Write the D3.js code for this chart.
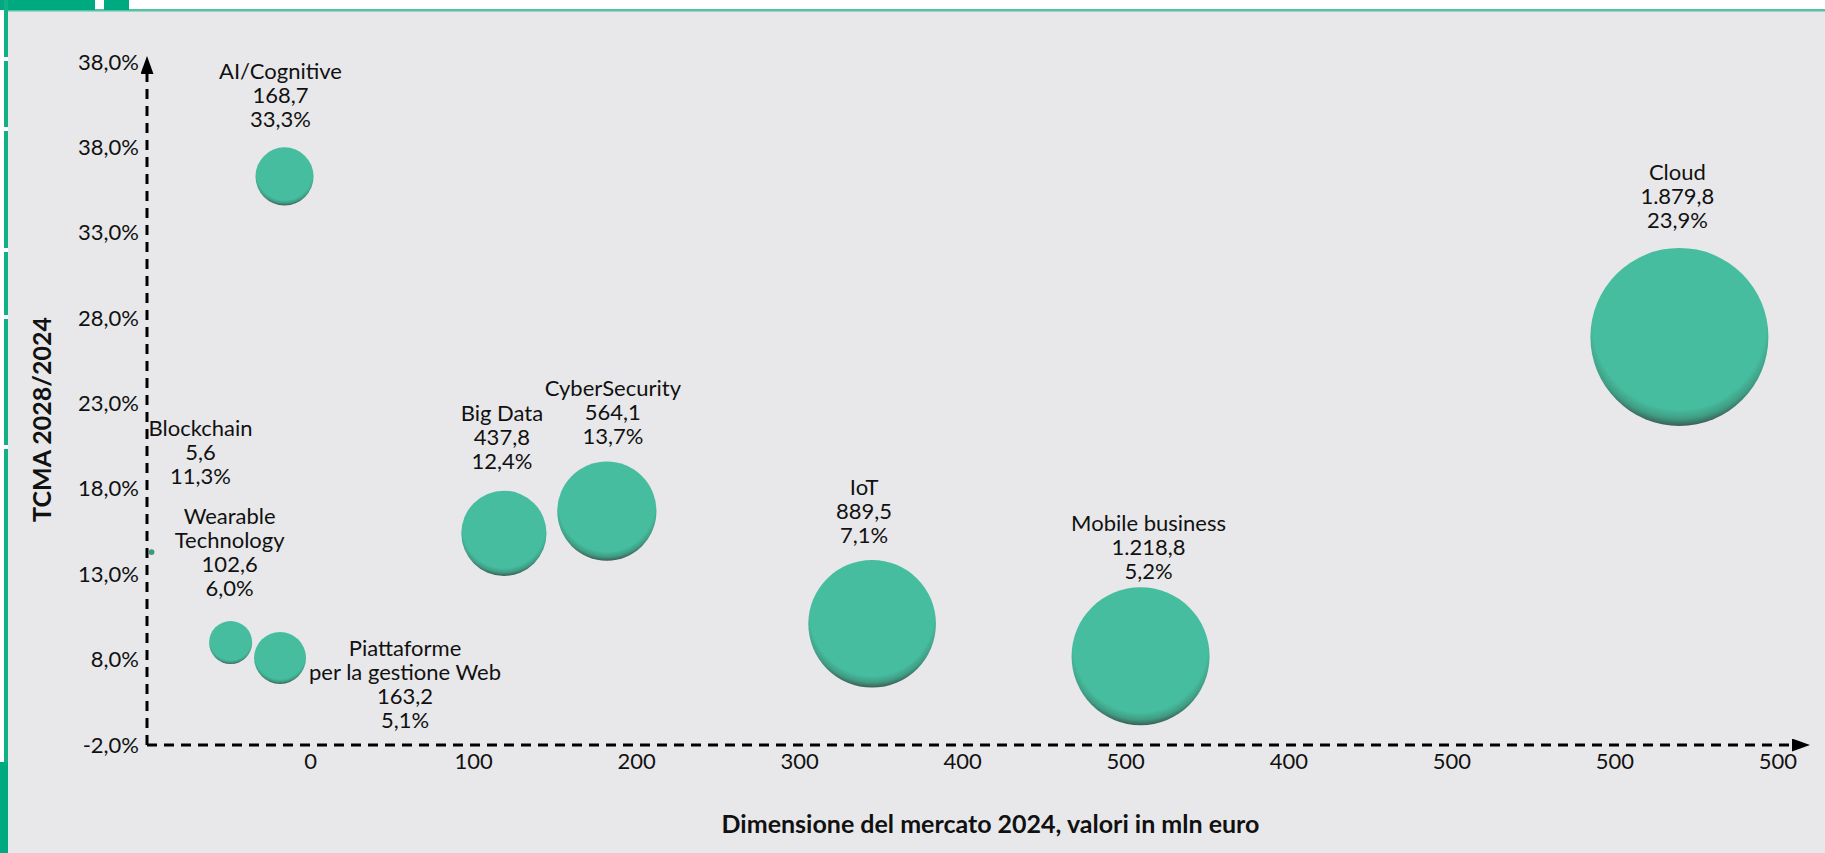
<!DOCTYPE html>
<html><head><meta charset="utf-8">
<script src="https://cdn.jsdelivr.net/npm/d3@7"></script>
<style>
html,body{margin:0;padding:0;background:#fff;}
svg{display:block;}
text{font-family:Lato,"Noto Sans",sans-serif;fill:#111;}
</style></head><body>
<svg id="chart" width="1825" height="853"></svg>
<script>
// ---------- DATA ----------
const categories = ["AI/Cognitive","Blockchain","Wearable Technology","Piattaforme per la gestione Web","Big Data","CyberSecurity","IoT","Mobile business","Cloud"];
const labelNames = [["AI/Cognitive"],["Blockchain"],["Wearable","Technology"],["Piattaforme","per la gestione Web"],["Big Data"],["CyberSecurity"],["IoT"],["Mobile business"],["Cloud"]];
const marketSize = [168.7, 5.6, 102.6, 163.2, 437.8, 564.1, 889.5, 1218.8, 1879.8];   // mln euro 2024
const cagr       = [33.3, 11.3, 6.0, 5.1, 12.4, 13.7, 7.1, 5.2, 23.9];                 // TCMA 2028/2024 %
const bubbleSize = [200, 2, 110, 160, 431, 584, 966, 1130, 1879.8];                     // bubble areas as drawn
const yTickValues = [0, 5, 10, 15, 20, 25, 30, 35, 40];
const yTickLabels = ["-2,0%","8,0%","13,0%","18,0%","23,0%","28,0%","33,0%","38,0%","38,0%"];
const xTickValues = [200, 400, 600, 800, 1000, 1200, 1400, 1600, 1800, 2000];
const xTickLabels = ["0","100","200","300","400","500","400","500","500","500"];
const yTitle = "TCMA 2028/2024";
const xTitle = "Dimensione del mercato 2024, valori in mln euro";

// ---------- LAYOUT (label offsets relative to bubble centre) ----------
const labelOffsets = [[-4,-105],[49,-124],[-1,-126],[125,-10],[-2,-120],[6,-123],[-8,-136],[8,-133],[-2,-165]];
const lineGap = 24;
const FS = 22;

// ---------- SETUP ----------
const svg = d3.select("#chart");
const it = d3.formatLocale({decimal:",", thousands:".", grouping:[3], currency:["","€"]});
const fmtVal = it.format(",.1f");
const fmtPct = v => it.format(".1f")(v) + "%";

// decorations / panel
svg.append("rect").attr("x",8).attr("y",11).attr("width",1817).attr("height",842).attr("fill","#e8e8ea");
svg.append("rect").attr("x",8).attr("y",9).attr("width",1817).attr("height",2.5).attr("fill","#55c1a3");
svg.append("rect").attr("x",0).attr("y",0).attr("width",95).attr("height",10).attr("fill","#00aa80");
svg.append("rect").attr("x",104).attr("y",0).attr("width",25).attr("height",10).attr("fill","#00aa80");
svg.append("rect").attr("x",4).attr("y",0).attr("width",4).attr("height",853).attr("fill","#12b085");
[57,127,248,315,445].forEach(y=>svg.append("rect").attr("x",0).attr("y",y).attr("width",8).attr("height",4).attr("fill","#fff"));
svg.append("rect").attr("x",0).attr("y",762).attr("width",8).attr("height",91).attr("fill","#00aa80");

// gradient for bubbles
const defs = svg.append("defs");
const grad = defs.append("radialGradient").attr("id","bub").attr("cx","50%").attr("cy","42%").attr("r","58%");
grad.append("stop").attr("offset","0%").attr("stop-color","#47bda0");
grad.append("stop").attr("offset","84%").attr("stop-color","#47bda0");
grad.append("stop").attr("offset","93%").attr("stop-color","#3f9d84");
grad.append("stop").attr("offset","100%").attr("stop-color","#3b5f55");
const mk = (id, d, w, h, rx, ry) => defs.append("marker").attr("id",id).attr("markerUnits","userSpaceOnUse")
  .attr("markerWidth",w).attr("markerHeight",h).attr("refX",rx).attr("refY",ry).attr("orient","auto")
  .append("path").attr("d",d).attr("fill","#000");
mk("arr","M0,0L18,6.5L0,13Z",18,13,11,6.5);

// scales
const x = d3.scaleLinear().domain([0, 2040]).range([147, 1810]);
const y = d3.scaleLinear().domain([0, 40]).range([745, 62]);
const r = d3.scaleSqrt().domain([0, d3.max(bubbleSize)]).range([0, 89]);

// axes (labels only)
const gx = svg.append("g").attr("transform",`translate(0,${y(0)})`)
  .call(d3.axisBottom(x).tickValues(xTickValues).tickSize(0).tickPadding(8)
    .tickFormat((d,i)=>xTickLabels[i]));
gx.select(".domain").remove();
gx.selectAll("text").attr("font-family","Lato,'Noto Sans',sans-serif").attr("font-size",FS).attr("fill","#111");

const gy = svg.append("g").attr("transform",`translate(${x(0)},0)`)
  .call(d3.axisLeft(y).tickValues(yTickValues).tickSize(0).tickPadding(8)
    .tickFormat((d,i)=>yTickLabels[i]));
gy.select(".domain").remove();
gy.selectAll("text").attr("font-family","Lato,'Noto Sans',sans-serif").attr("font-size",FS).attr("fill","#111");

// dashed axis lines with arrows
svg.append("line").attr("x1",x(0)).attr("y1",y(0)).attr("x2",x.range()[1]-7).attr("y2",y(0))
  .attr("stroke","#000").attr("stroke-width",3).attr("stroke-dasharray","10,7").attr("marker-end","url(#arr)");
svg.append("line").attr("x1",x(0)).attr("y1",y(0)).attr("x2",x(0)).attr("y2",y.range()[1]+1)
  .attr("stroke","#000").attr("stroke-width",3).attr("stroke-dasharray","10,7").attr("marker-end","url(#arr)");

// bubbles
const data = categories.map((c,i)=>({c, i, size: marketSize[i], g: cagr[i], b: bubbleSize[i]}));
svg.append("g").selectAll("circle").data(data).join("circle")
  .attr("cx",d=>x(d.size)).attr("cy",d=>y(d.g)).attr("r",d=>r(d.b))
  .attr("fill",d=> r(d.b) < 5 ? "#3f9a7c" : "url(#bub)");

// labels
const lg = svg.append("g");
data.forEach(d=>{
  const lines = labelNames[d.i].concat([fmtVal(d.size), fmtPct(d.g)]);
  const [dx,dy] = labelOffsets[d.i];
  const t = lg.append("text").attr("text-anchor","middle").attr("font-size",FS)
    .attr("x", x(d.size)+dx).attr("y", y(d.g)+dy);
  lines.forEach((s,k)=>t.append("tspan").attr("x",x(d.size)+dx).attr("y",y(d.g)+dy+k*lineGap).attr("dy","0.35em").text(s));
});

// axis titles
svg.append("text").attr("text-anchor","middle").attr("font-weight",700).attr("font-size",25)
  .attr("transform",`translate(42,${(y(0)+y(40))/2+16}) rotate(-90)`).attr("dy","0.35em").text(yTitle);
svg.append("text").attr("text-anchor","middle").attr("font-weight",700).attr("font-size",25)
  .attr("x",(x(0)+x.range()[1])/2+12).attr("y",824).attr("dy","0.35em").text(xTitle);
</script>
</body></html>
